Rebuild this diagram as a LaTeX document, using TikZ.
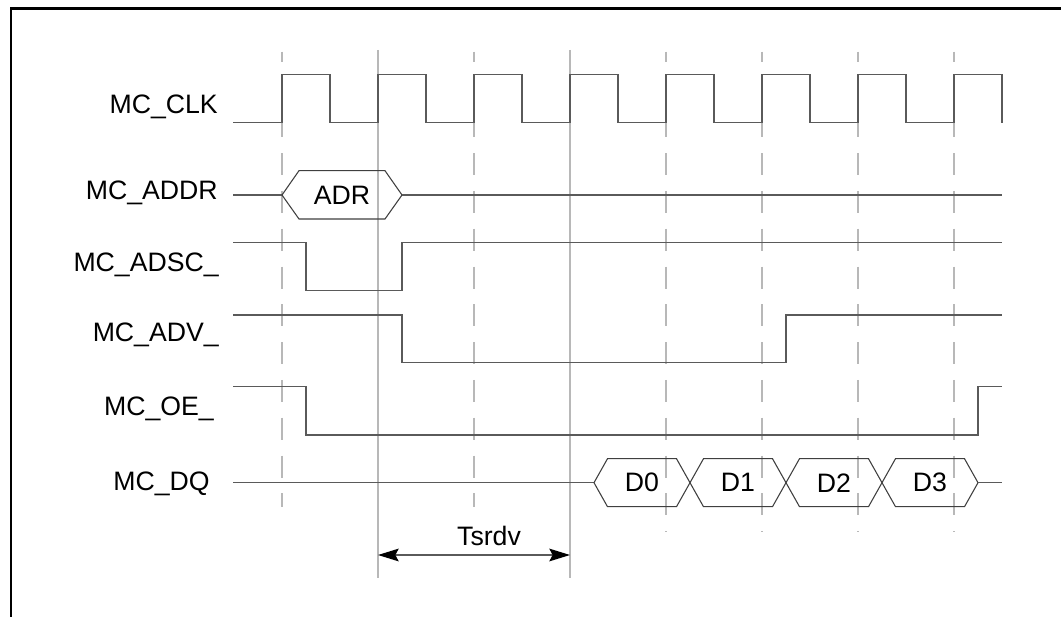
\documentclass[tikz,border=0pt]{standalone}
\usepackage{fontspec}
\setmainfont{Liberation Sans}
\usetikzlibrary{arrows.meta}
\definecolor{sig}{HTML}{5A5A5A}
\definecolor{guide}{HTML}{B8B8B8}
\tikzset{
  sigline/.style={draw=sig,line width=1.1pt},
  busline/.style={draw=sig!70!black,line width=0.8pt},
  guidesolid/.style={draw=guide,line width=0.8pt},
  guidedash/.style={draw=guide,line width=0.8pt,dash pattern=on 16.5pt off 11.85pt,dash phase=9pt},
  lbl/.style={font=\fontsize{20}{24}\selectfont,inner sep=0pt},
  sigtip/.tip={Stealth[length=15.5pt,width=9.5pt,inset=2.5pt,black]}
}

\begin{document}
\begin{tikzpicture}[x=0.75pt,y=-0.75pt]
\clip (0,0) rectangle (1061,617);
\draw[line width=1.9pt] (1100,8.5) -- (11,8.5) -- (11,700);

\foreach \gx/\gend in {282/507,474/507,666/532,762/532,858/532,954/532}
  \draw[guidedash] (\gx,51.7) -- (\gx,\gend);
\foreach \gx in {378,570}
  \draw[guidesolid] (\gx,50) -- (\gx,578);

\node[lbl,anchor=base east] (clk) at (218,113.3) {MC\_CLK};
\node[lbl,anchor=base east] (addr) at (218,199.3) {MC\_ADDR};
\node[lbl,anchor=base east] (adsc) at (219,271.7) {MC\_ADSC\_};
\node[lbl,anchor=base east] (adv) at (219,341.7) {MC\_ADV\_};
\node[lbl,anchor=base east] (oe) at (214,415) {MC\_OE\_};
\node[lbl,anchor=base east] (dq) at (210,490) {MC\_DQ};

\draw[sigline] (233,122.7) \foreach \cx in {282,378,...,954} {
  -- (\cx,122.7) -- (\cx,74.3) -- ({\cx+48},74.3) -- ({\cx+48},122.7) };

\draw[sigline] (233,195) -- (282,195);
\draw[busline] (282,195) -- (299,170.7) -- (385,170.7) -- (402,195) -- (385,219) -- (299,219) -- cycle;
\draw[sigline] (402,195) -- (1002,195);
\node[lbl] (adr) at (342,195) {ADR};

\draw[sigline] (233,242.7) -- (306,242.7) -- (306,290.7) -- (402,290.7) -- (402,242.7) -- (1002,242.7);
\draw[sigline] (233,315) -- (402,315) -- (402,362.7) -- (786,362.7) -- (786,315) -- (1002,315);
\draw[sigline] (233,386.7) -- (306,386.7) -- (306,435) -- (978,435) -- (978,386.7) -- (1002,386.7);

\draw[sigline] (233,482.7) -- (594,482.7);
\foreach \dl [count=\i from 0] in {594,690,786,882} {
  \draw[busline] (\dl,482.7) -- ({\dl+13.5},458.7) -- ({\dl+82.5},458.7) -- ({\dl+96},482.7)
    -- ({\dl+82.5},506.7) -- ({\dl+13.5},506.7) -- cycle;
  \node[lbl] (d\i) at ({\dl+48},482.7) {D\i};
}
\draw[sigline] (978,482.7) -- (1002,482.7);

\coordinate (ta) at (378,555);
\coordinate (tb) at (570,555);
\draw[sigline,sigtip-sigtip] (ta) -- (tb);
\node[lbl,anchor=base] (tsrdv) at (489,545) {Tsrdv};
\end{tikzpicture}
\end{document}
